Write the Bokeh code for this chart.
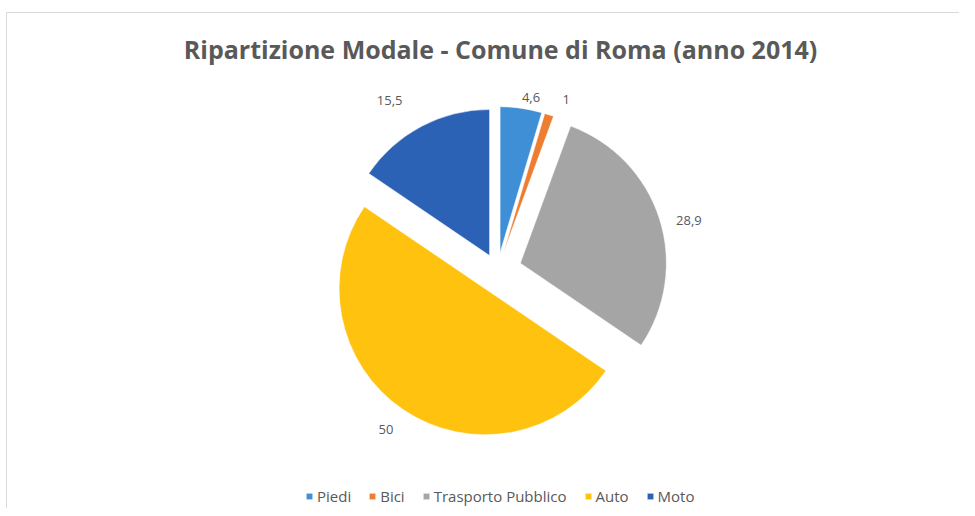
import math
from bokeh.plotting import figure
from bokeh.models import Range1d, Label, Legend, LegendItem, ColumnDataSource
from bokeh.core.properties import value
from bokeh.embed import file_html
from bokeh.resources import INLINE

# ---- data ----
title_text = "Ripartizione Modale - Comune di Roma (anno 2014)"
categories = ["Piedi", "Bici", "Trasporto Pubblico", "Auto", "Moto"]
values = [4.6, 1.0, 28.9, 50.0, 15.5]
value_labels = ["4,6", "1", "28,9", "50", "15,5"]
colors = ["#3F8FD6", "#ED7D31", "#A5A5A5", "#FFC20E", "#2C62B6"]

# ---- layout (pixels, figure coords, y up) ----
W, H = 959, 508
cx, cy = 497, 238          # pie centre
R = 146                    # radius
explode = [18, 18, 24, 22, 17]
label_gap = [12, 20, 28, 26, 38]
label_turn = [3.0, 4.0, 3.5, 1.0, -5.0]   # degrees
text_col = "#595959"

p = figure(width=W, height=H, output_backend="svg", toolbar_location=None,
           x_range=Range1d(0, W), y_range=Range1d(0, H), min_border=0,
           outline_line_color=None, background_fill_color="white")
p.axis.visible = False
p.grid.visible = False

# chart-area border (left and top edges visible)
p.quad(left=[6], right=[W + 20], top=[H - 12], bottom=[-20],
       fill_color=None, line_color="#D9D9D9", line_width=1)

total = sum(values)
cum = 0.0
items = []
for i, (cat, v) in enumerate(zip(categories, values)):
    t1 = cum / total * 2 * math.pi
    cum += v
    t2 = cum / total * 2 * math.pi
    tm = (t1 + t2) / 2
    ax = cx + explode[i] * math.sin(tm)
    ay = cy + explode[i] * math.cos(tm)
    src = ColumnDataSource(dict(x=[ax], y=[ay],
                                start=[math.pi / 2 - t2], end=[math.pi / 2 - t1]))
    r = p.wedge(x="x", y="y", radius=R, start_angle="start", end_angle="end",
                source=src, fill_color=colors[i], line_color="white", line_width=0.5)
    items.append(LegendItem(label=cat, renderers=[r]))
    lr = R + label_gap[i]
    ta = tm + math.radians(label_turn[i])
    lx = ax + lr * math.sin(ta)
    ly = ay + lr * math.cos(ta)
    p.text(x=[lx], y=[ly], text=[value_labels[i]], text_align="center",
           text_baseline="middle", text_font=value("Open Sans"),
           text_font_size="13px", text_color=text_col)

title = Label(x=500, y=H - 48, x_units="data", y_units="data", text=title_text,
              text_align="center", text_baseline="middle",
              text_font="Open Sans", text_font_style="bold",
              text_font_size="25px", text_color=text_col)
p.add_layout(title)

legend = Legend(items=items, orientation="horizontal", location=(305, 2),
                label_text_font="Open Sans", label_text_font_size="15px",
                label_text_color=text_col, glyph_width=8, glyph_height=8,
                label_standoff=4, spacing=17, padding=0, margin=0,
                border_line_color=None, background_fill_alpha=0)
p.add_layout(legend)

open("out.html", "w").write(file_html(p, INLINE))
